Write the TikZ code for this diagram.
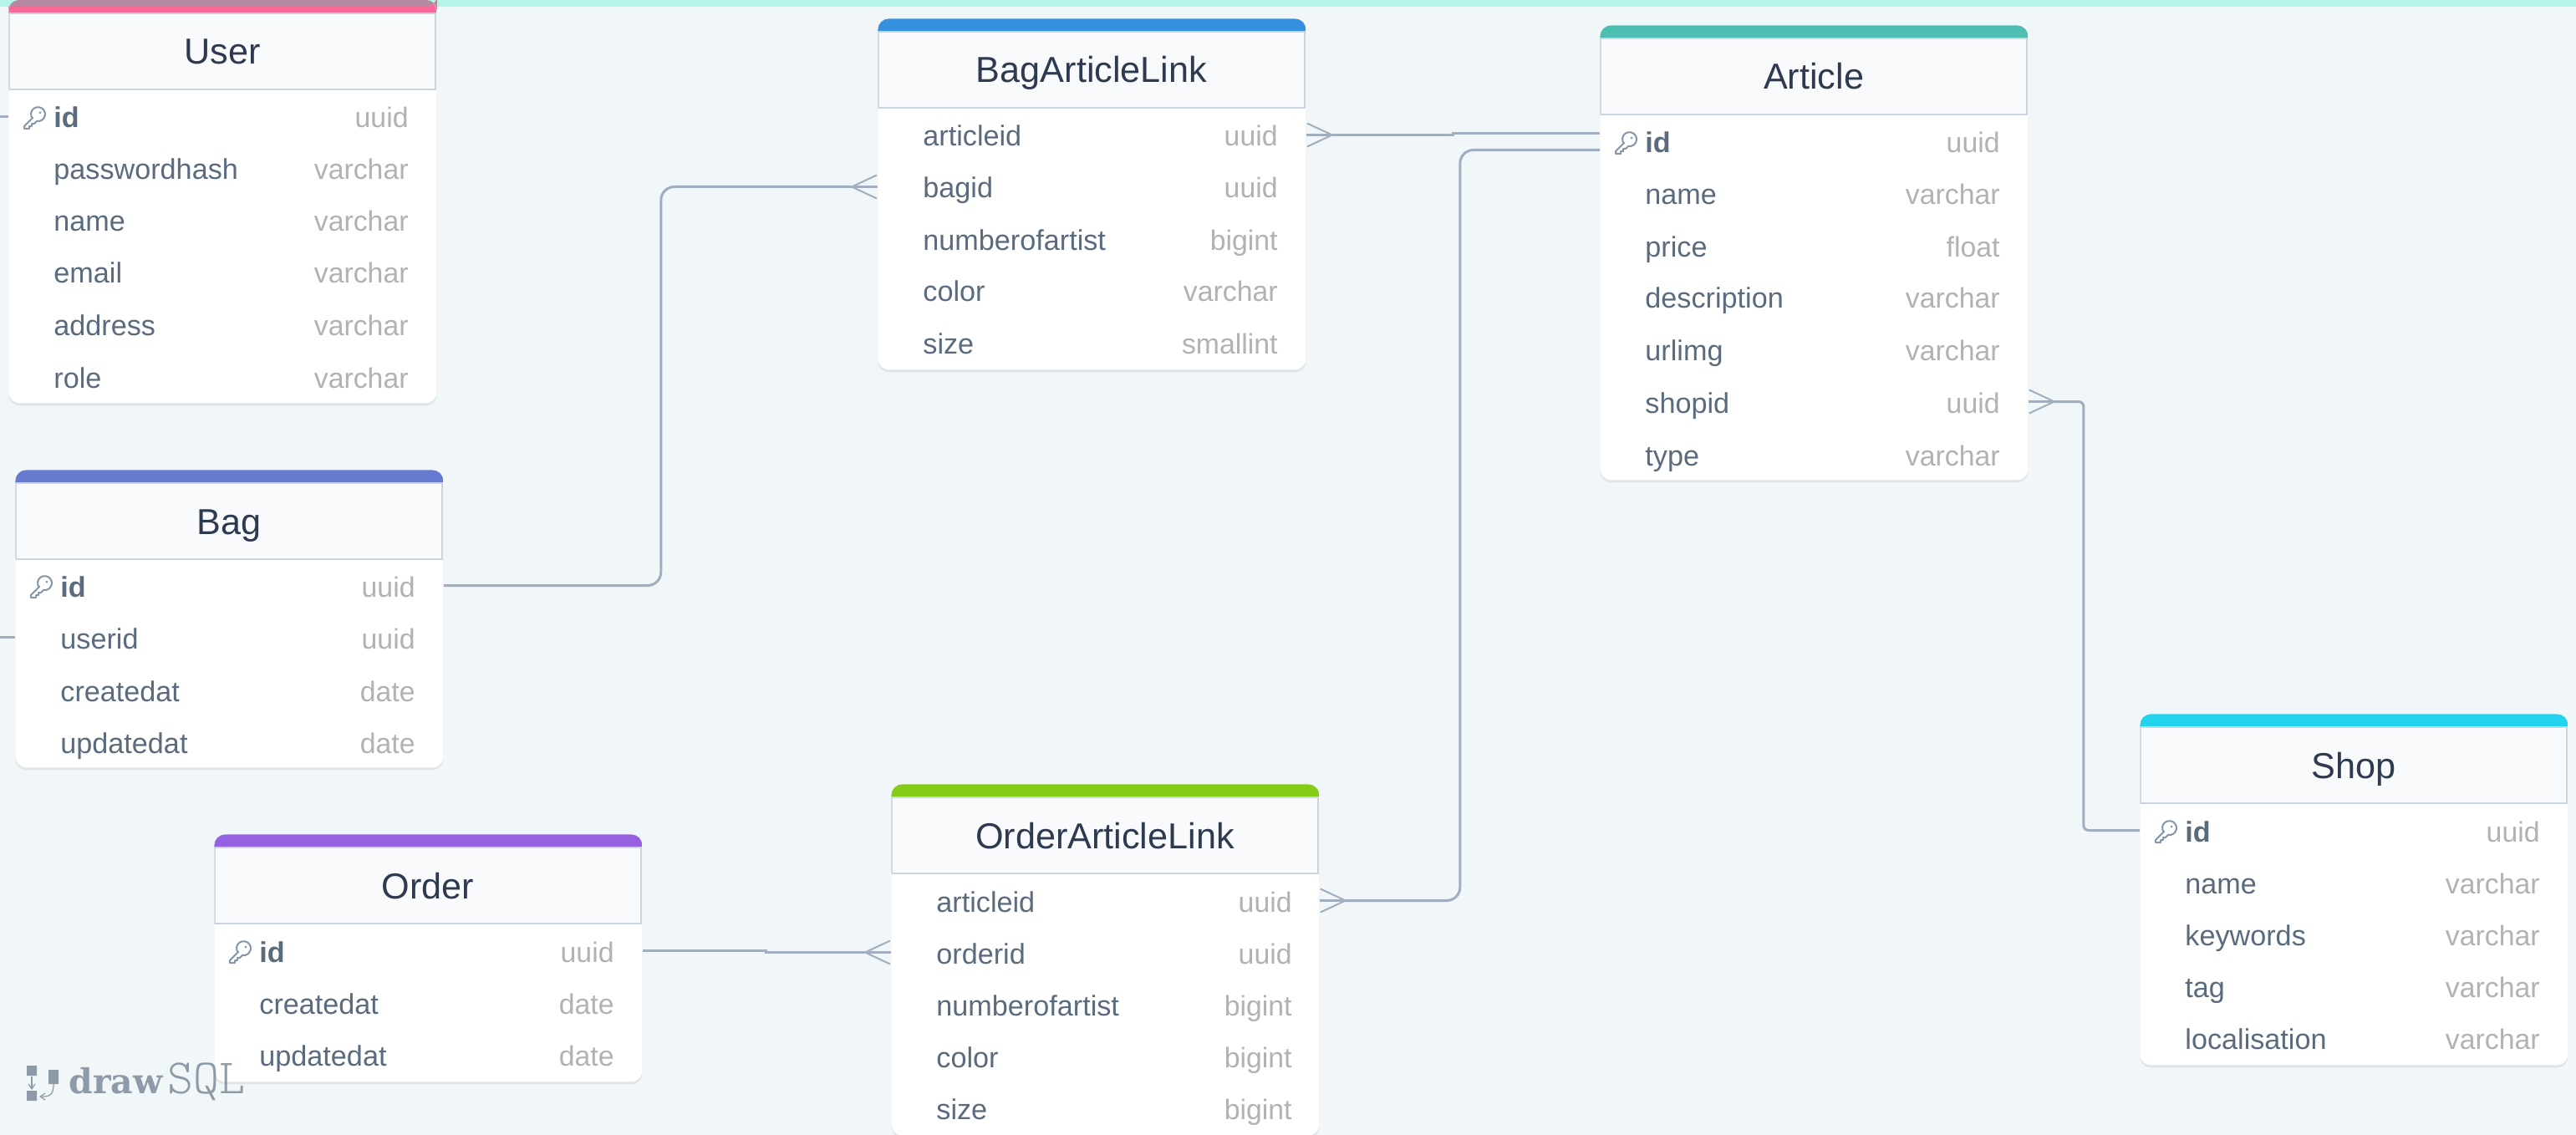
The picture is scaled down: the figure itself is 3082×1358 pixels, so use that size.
\documentclass[tikz,border=0pt]{standalone}
\usepackage{fontspec}
\setmainfont{Liberation Sans}
\newfontfamily\logoslab{DejaVu Serif}
\usetikzlibrary{arrows.meta,shadows,calc}

\definecolor{pagebg}{HTML}{F1F6F8}
\definecolor{topband}{HTML}{B5F5E8}
\definecolor{userband}{HTML}{B5889F}
\definecolor{headfill}{HTML}{F8FAFC}
\definecolor{headline}{HTML}{CBD5E0}
\definecolor{titleink}{HTML}{2D3A50}
\definecolor{fieldink}{HTML}{5A6B7E}
\definecolor{typeink}{HTML}{B0B2B5}
\definecolor{linkgrey}{HTML}{A0AEC0}
\definecolor{keygrey}{HTML}{8596A8}
\definecolor{logogrey}{HTML}{8D9AA8}
\definecolor{userpink}{HTML}{F96A9A}
\definecolor{bagblue}{HTML}{667AD0}
\definecolor{linkblue}{HTML}{3690E0}
\definecolor{articleteal}{HTML}{4DBFB2}
\definecolor{shopcyan}{HTML}{22D3EE}
\definecolor{ordermauve}{HTML}{9561E2}
\definecolor{linkgreen}{HTML}{84CC16}

\tikzset{
  crow/.tip={Straight Barb[reversed, length=15pt, width=14pt, line width=1pt]},
  tablebox/.style={rectangle, anchor=north west, inner sep=0pt, minimum width=256pt, rounded corners=6.5pt, fill=white,
    drop shadow={shadow xshift=0pt, shadow yshift=-1.5pt, opacity=.07, fill=black},
    path picture={
      \fill[#1, sharp corners] (path picture bounding box.north west) rectangle ([yshift=-8pt]path picture bounding box.north east);
      \draw[draw=headline, fill=headfill, line width=1pt, sharp corners] ([xshift=.5pt, yshift=-8pt]path picture bounding box.north west) rectangle ([xshift=-.5pt, yshift=-53.5pt]path picture bounding box.north east);
    }},
  tabletitle/.style={anchor=base, inner sep=0pt, text=titleink, font=\fontsize{21.6}{24}\selectfont},
  field/.style={anchor=base west, inner sep=0pt, yshift=-.5pt, text height=14pt, text depth=.5pt, text=fieldink, font=\fontsize{17.1}{20}\selectfont},
  keyfield/.style={field, font=\fontsize{17.1}{20}\selectfont\bfseries},
  fieldtype/.style={anchor=base east, inner sep=0pt, yshift=-.5pt, text=typeink, font=\fontsize{16.9}{20}\selectfont},
  link/.style={draw=linkgrey, line width=1.5pt},
  keymark/.pic={
    \draw[keygrey, line width=1pt, line join=round] (11,14) -- (1,24) -- (1,27) -- (7,27) -- (7,24) -- (10,24) -- (10,21) -- (13,21) -- (16,18) arc[start angle=100, end angle=-200, radius=8.5] -- cycle;
    \fill[keygrey] (20,8) circle[radius=1.5];
  }
}

\begin{document}
\begin{tikzpicture}[x=.5pt, y=-.5pt]
\useasboundingbox (0,0) rectangle (3082,1358);
\fill[pagebg] (0,0) rectangle (3082,1358);
\fill[topband] (0,0) rectangle (3082,8);
\coordinate (leftedge) at (0,0);

\node[tablebox=userpink, minimum height=241pt] (User) at (10,0) {};
\node[tablebox=bagblue, minimum height=178pt] (Bag) at (18,562) {};
\node[tablebox=linkblue, minimum height=210pt] (BagArticleLink) at (1050,22) {};
\node[tablebox=articleteal, minimum height=272pt] (Article) at (1914,30) {};
\node[tablebox=shopcyan, minimum height=210pt] (Shop) at (2560,854) {};
\node[tablebox=ordermauve, minimum height=148pt] (Order) at (256,998) {};
\node[tablebox=linkgreen, minimum height=210pt] (OrderArticleLink) at (1066,938) {};

\fill[userband] ([yshift=-4pt]User.north west) [rounded corners=6.5pt] -- (User.north west) -- (User.north east) -- ([yshift=-4pt]User.north east) [sharp corners] -- cycle;

\node[tabletitle] (usertitle) at (266,77) {User};
\node[tabletitle] (bagtitle) at (274,639) {Bag};
\node[tabletitle] (baltitle) at (1306,99) {BagArticleLink};
\node[tabletitle] (articletitle) at (2170,107) {Article};
\node[tabletitle] (shoptitle) at (2816,931) {Shop};
\node[tabletitle] (ordertitle) at (512,1075) {Order};
\node[tabletitle] (oaltitle) at (1322,1015) {OrderArticleLink};

\node[keyfield] (userid) at (64,152) {id};
\node[field] (userpasswordhash) at (64,214) {passwordhash};
\node[field] (username) at (64,276) {name};
\node[field] (useremail) at (64,338) {email};
\node[field] (useraddress) at (64,400) {address};
\node[field] (userrole) at (64,463) {role};
\node[fieldtype] (useridtype) at (489,152) {uuid};
\node[fieldtype] (userpasswordhashtype) at (489,214) {varchar};
\node[fieldtype] (usernametype) at (489,276) {varchar};
\node[fieldtype] (useremailtype) at (489,338) {varchar};
\node[fieldtype] (useraddresstype) at (489,400) {varchar};
\node[fieldtype] (userroletype) at (489,463) {varchar};

\node[keyfield] (bagid) at (72,713) {id};
\node[field] (baguserid) at (72,775) {userid};
\node[field] (bagcreatedat) at (72,838) {createdat};
\node[field] (bagupdatedat) at (72,900) {updatedat};
\node[fieldtype] (bagidtype) at (497,713) {uuid};
\node[fieldtype] (baguseridtype) at (497,775) {uuid};
\node[fieldtype] (bagcreatedattype) at (497,838) {date};
\node[fieldtype] (bagupdatedattype) at (497,900) {date};

\node[field] (balarticleid) at (1104,174) {articleid};
\node[field] (balbagid) at (1104,236) {bagid};
\node[field] (balnumberofartist) at (1104,299) {numberofartist};
\node[field] (balcolor) at (1104,360) {color};
\node[field] (balsize) at (1104,422) {size};
\node[fieldtype] (balarticleidtype) at (1529,174) {uuid};
\node[fieldtype] (balbagidtype) at (1529,236) {uuid};
\node[fieldtype] (balnumberofartisttype) at (1529,299) {bigint};
\node[fieldtype] (balcolortype) at (1529,360) {varchar};
\node[fieldtype] (balsizetype) at (1529,422) {smallint};

\node[keyfield] (articleid) at (1968,182) {id};
\node[field] (articlename) at (1968,244) {name};
\node[field] (articleprice) at (1968,307) {price};
\node[field] (articledescription) at (1968,368) {description};
\node[field] (articleurlimg) at (1968,430) {urlimg};
\node[field] (articleshopid) at (1968,493) {shopid};
\node[field] (articletype) at (1968,556) {type};
\node[fieldtype] (articleidtype) at (2393,182) {uuid};
\node[fieldtype] (articlenametype) at (2393,244) {varchar};
\node[fieldtype] (articlepricetype) at (2393,307) {float};
\node[fieldtype] (articledescriptiontype) at (2393,368) {varchar};
\node[fieldtype] (articleurlimgtype) at (2393,430) {varchar};
\node[fieldtype] (articleshopidtype) at (2393,493) {uuid};
\node[fieldtype] (articletypetype) at (2393,556) {varchar};

\node[keyfield] (shopid) at (2614,1006) {id};
\node[field] (shopname) at (2614,1068) {name};
\node[field] (shopkeywords) at (2614,1130) {keywords};
\node[field] (shoptag) at (2614,1192) {tag};
\node[field] (shoplocalisation) at (2614,1254) {localisation};
\node[fieldtype] (shopidtype) at (3039,1006) {uuid};
\node[fieldtype] (shopnametype) at (3039,1068) {varchar};
\node[fieldtype] (shopkeywordstype) at (3039,1130) {varchar};
\node[fieldtype] (shoptagtype) at (3039,1192) {varchar};
\node[fieldtype] (shoplocalisationtype) at (3039,1254) {varchar};

\node[keyfield] (orderid) at (310,1150) {id};
\node[field] (ordercreatedat) at (310,1212) {createdat};
\node[field] (orderupdatedat) at (310,1274) {updatedat};
\node[fieldtype] (orderidtype) at (735,1150) {uuid};
\node[fieldtype] (ordercreatedattype) at (735,1212) {date};
\node[fieldtype] (orderupdatedattype) at (735,1274) {date};

\node[field] (oalarticleid) at (1120,1090) {articleid};
\node[field] (oalorderid) at (1120,1152) {orderid};
\node[field] (oalnumberofartist) at (1120,1214) {numberofartist};
\node[field] (oalcolor) at (1120,1276) {color};
\node[field] (oalsize) at (1120,1338) {size};
\node[fieldtype] (oalarticleidtype) at (1546,1090) {uuid};
\node[fieldtype] (oalorderidtype) at (1546,1152) {uuid};
\node[fieldtype] (oalnumberofartisttype) at (1546,1214) {bigint};
\node[fieldtype] (oalcolortype) at (1546,1276) {bigint};
\node[fieldtype] (oalsizetype) at (1546,1338) {bigint};

\pic (userkey) at ($(userid.base west)+(-36,-26)$) {keymark};
\pic (bagkey) at ($(bagid.base west)+(-36,-26)$) {keymark};
\pic (articlekey) at ($(articleid.base west)+(-36,-26)$) {keymark};
\pic (shopkey) at ($(shopid.base west)+(-36,-26)$) {keymark};
\pic (orderkey) at ($(orderid.base west)+(-36,-26)$) {keymark};

\draw[link] (leftedge |- userid) -- (User.west |- userid);
\draw[link] (leftedge |- baguserid) -- (Bag.west |- baguserid);
\draw[link, -{crow}, rounded corners=8pt] (Bag.east |- bagid) -- ++(260,0) |- (BagArticleLink.west |- balbagid);
\draw[link] (BagArticleLink.west |- balbagid) -- ++(-30,0);
\draw[link, {crow}-] (BagArticleLink.east |- balarticleid) -- ++(176,0) |- ([yshift=5pt]Article.west |- articleid);
\draw[link] (BagArticleLink.east |- balarticleid) -- ++(30,0);
\draw[link, {crow}-, rounded corners=8pt] (OrderArticleLink.east |- oalarticleid) -- ++(168,0) |- ([yshift=-5pt]Article.west |- articleid);
\draw[link] (OrderArticleLink.east |- oalarticleid) -- ++(30,0);
\draw[link, {crow}-, rounded corners=3pt] (Article.east |- articleshopid) -- ++(66,0) |- (Shop.west |- shopid);
\draw[link] (Article.east |- articleshopid) -- ++(30,0);
\draw[link, -{crow}] (Order.east |- orderid) -- ++(148,0) |- (OrderArticleLink.west |- oalorderid);
\draw[link] (OrderArticleLink.west |- oalorderid) -- ++(-30,0);

\fill[logogrey] (32,1275) rectangle (44,1287) (32,1305) rectangle (44,1317) (58,1280) rectangle (70,1297);
\draw[logogrey, line width=.6pt, -{Straight Barb[length=3pt, width=4pt]}] (38,1288) -- (38,1304);
\draw[logogrey, line width=.6pt, -{Straight Barb[length=3pt, width=4pt]}] (64,1297) .. controls (64,1312) and (58,1312) .. (47,1312);
\node[anchor=base west, inner sep=0pt, text=logogrey, font=\fontsize{29.5}{30}\ttfamily] (logo) at (82,1308) {{\logoslab\bfseries\fontsize{20.5}{30}\selectfont draw}\hspace{3pt}{\fontseries{l}\selectfont SQL}};
\end{tikzpicture}
\end{document}
